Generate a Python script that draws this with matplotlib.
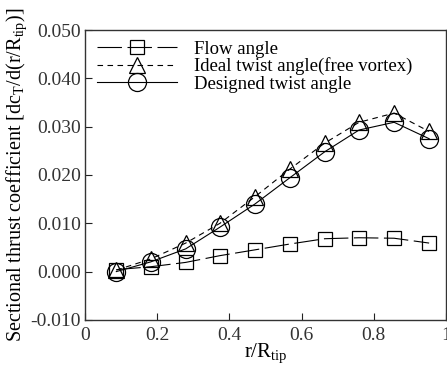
import matplotlib
matplotlib.use("Agg")
import matplotlib.pyplot as plt

plt.rcParams['font.family'] = ['Liberation Serif', 'DejaVu Serif']
plt.rcParams['mathtext.fontset'] = 'custom'
plt.rcParams['mathtext.rm'] = 'Liberation Serif'
plt.rcParams['mathtext.it'] = 'Liberation Serif'

# radial stations
r_pos = [0.087, 0.182, 0.279, 0.374, 0.471, 0.567, 0.664, 0.759, 0.856, 0.953]

# sectional thrust coefficient for each twist distribution
flow_angle = [0.0004, 0.0010, 0.0019, 0.0033, 0.0045, 0.0057, 0.0068, 0.0070, 0.0069, 0.0059]
ideal_twist = [0.0003, 0.0026, 0.0059, 0.0100, 0.0155, 0.0212, 0.0266, 0.0309, 0.0328, 0.0290]
designed_twist = [0.0000, 0.0020, 0.0047, 0.0092, 0.0140, 0.0194, 0.0248, 0.0293, 0.0309, 0.0275]

x_ticks = [0, 0.2, 0.4, 0.6, 0.8, 1.0]
x_labels = ['0', '0.2', '0.4', '0.6', '0.8', '1']
y_ticks = [-0.010, 0.000, 0.010, 0.020, 0.030, 0.040, 0.050]

fig = plt.figure(figsize=(4.47, 3.66), dpi=100)
ax = fig.add_axes([0.190, 0.126, 0.808, 0.792])

ax.plot(r_pos, flow_angle, color='black', lw=0.8, linestyle=(0, (22, 5)),
        marker='s', ms=10, mfc='none', mec='black', mew=0.9, label='Flow angle')
ax.plot(r_pos, ideal_twist, color='black', lw=0.8, linestyle=(0, (5, 4)),
        marker='^', ms=11, mfc='none', mec='black', mew=0.9,
        label='Ideal twist angle(free vortex)')
ax.plot(r_pos, designed_twist, color='black', lw=0.8, linestyle='-',
        marker='o', ms=13, mfc='none', mec='black', mew=0.9,
        label='Designed twist angle')

ax.set_xlim(0, 1)
ax.set_ylim(-0.010, 0.050)
ax.set_xticks(x_ticks)
ax.set_xticklabels(x_labels)
ax.set_yticks(y_ticks)
ax.set_yticklabels([f'{v:.3f}' for v in y_ticks])
ax.tick_params(direction='in', length=5, width=0.8, labelsize=14, colors='#222222',
               labelcolor='#333333', pad=3)
ax.tick_params(axis='x', pad=5)
for s in ax.spines.values():
    s.set_linewidth(1.0)
    s.set_color('#333333')

ax.set_xlabel(r'r/R$_{\mathrm{tip}}$', fontsize=15, labelpad=-2)
ax.set_ylabel(r'Sectional thrust coefficient [dc$_{\mathrm{T}}$/d(r/R$_{\mathrm{tip}}$)]',
              fontsize=14.5, labelpad=1)

ax.legend(loc='upper left', frameon=False, fontsize=13.5, handlelength=4.3,
          numpoints=1, labelspacing=0.0, borderaxespad=0.0,
          bbox_to_anchor=(0.012, 0.99), handletextpad=0.9)

fig.savefig('out.png', dpi=100)
